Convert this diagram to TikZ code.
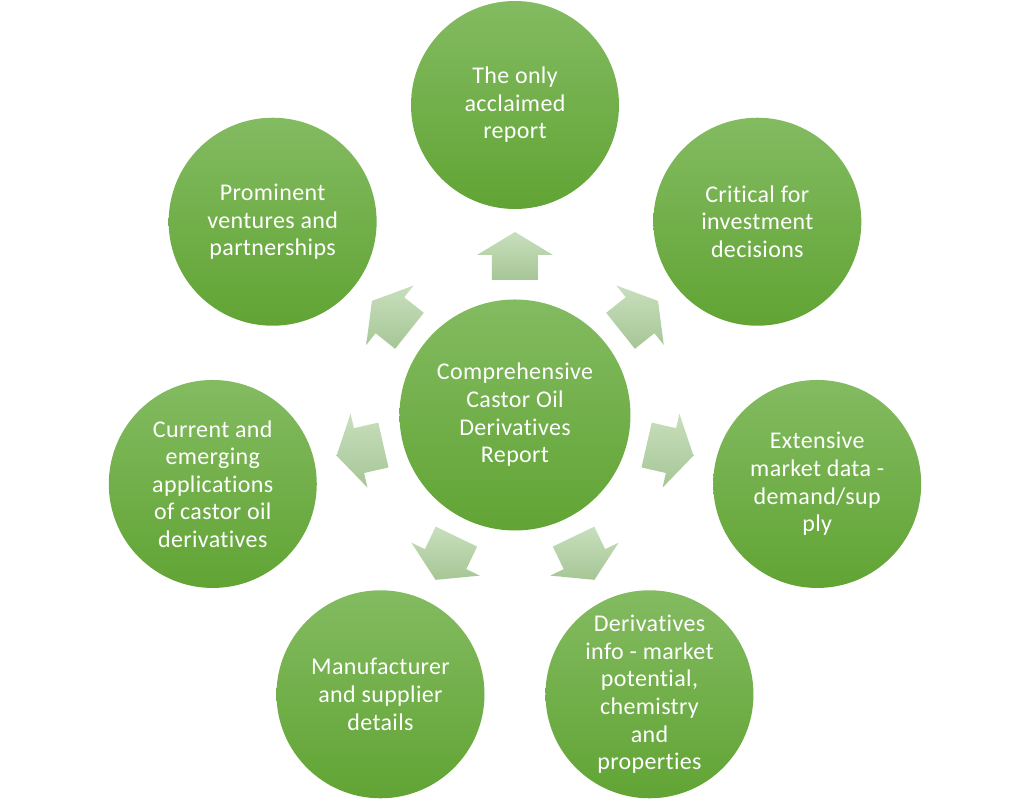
\documentclass[tikz,border=0pt]{standalone}
\usepackage{fontspec}
\setmainfont{Carlito}[LetterSpace=1.5, Ligatures=NoCommon]
\usetikzlibrary{calc}

\definecolor{bubbletop}{RGB}{131,187,97}
\definecolor{bubblebot}{RGB}{97,164,52}
\definecolor{flowtop}{RGB}{200,223,189}
\definecolor{flowbot}{RGB}{166,198,150}

\begin{document}
\begin{tikzpicture}[
    x=0.5pt, y=0.5pt, font=\fontsize{12}{13.8}\selectfont,
    hub/.style={circle, minimum size=115.5pt, inner sep=0pt, align=center, text=white, top color=bubbletop, bottom color=bubblebot},
    spoke/.style={hub, minimum size=104pt},
    flow/.style={top color=flowtop, bottom color=flowbot},
  ]
  \useasboundingbox (-515,-387) rectangle (515,415);
  \node[hub] (report) at (0,0) {Comprehensive\\Castor Oil\\Derivatives\\Report};
  \node[spoke] (acclaimed) at (90:310) {The only\\acclaimed\\report};
  \node[spoke] (invest) at (38.571:310) {Critical for\\investment\\decisions};
  \node[spoke] (market) at (-12.857:310) {Extensive\\market data -\\demand/sup\\ply};
  \node[spoke] (deriv) at (-64.286:310) {Derivatives\\info - market\\potential,\\chemistry\\and\\properties};
  \node[spoke] (maker) at (-115.714:310) {Manufacturer\\and supplier\\details};
  \node[spoke] (apps) at (-167.143:310) {Current and\\emerging\\applications\\of castor oil\\derivatives};
  \node[spoke] (ventures) at (141.429:310) {Prominent\\ventures and\\partnerships};
  % block arrows from the hub out to each spoke
  \foreach \a in {90,38.571,-12.857,-64.286,-115.714,-167.143,141.429}
    \path[flow] ($(report)+(\a:183)$) -- ($(report)+(\a:160)+(\a+90:38)$)
      -- ($(report)+(\a:160)+(\a+90:23)$) -- ($(report)+(\a:135)+(\a+90:23)$)
      -- ($(report)+(\a:135)+(\a-90:23)$) -- ($(report)+(\a:160)+(\a-90:23)$)
      -- ($(report)+(\a:160)+(\a-90:38)$) -- cycle;
\end{tikzpicture}
\end{document}
